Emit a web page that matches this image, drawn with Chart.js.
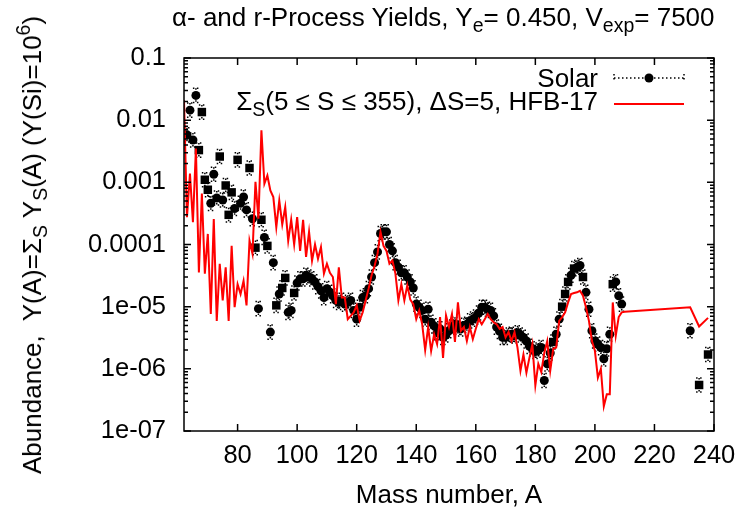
<!DOCTYPE html>
<html>
<head>
<meta charset="utf-8">
<script src="https://cdn.jsdelivr.net/npm/chart.js@4.4.0/dist/chart.umd.min.js"></script>
<style>
  body { margin: 0; background: #fff; }
  #wrap { position: relative; width: 740px; height: 512px; font-family: "Liberation Sans", Arial, sans-serif; color: #000; }
  #wrap canvas { position: absolute; left: 0; top: 0; }
  .lbl { position: absolute; white-space: nowrap; font-size: 26px; line-height: 1; }
  .lbl sub { font-size: 0.75em; vertical-align: -0.3em; line-height: 0; }
  .lbl sup { font-size: 0.75em; vertical-align: 0.55em; line-height: 0; }
</style>
</head>
<body>
<div id="wrap">
  <canvas id="chart" width="740" height="512"></canvas>
  <div class="lbl" id="title" style="left:172px; top:4px;">α- and r-Process Yields, Y<sub>e</sub>= 0.450, V<sub>exp</sub>= 7500</div>
  <div class="lbl" id="ylabel" style="left:32px; top:245px; transform:translate(-50%,-50%) rotate(-90deg);">Abundance,&nbsp; Y(A)=Σ<sub>S</sub> Y<sub>S</sub>(A) (Y(Si)=10<sup>6</sup>)</div>
  <div class="lbl" id="xlabel" style="left:449px; top:481px; transform:translateX(-50%);">Mass number, A</div>
  <div class="lbl" style="right:142px; top:65px; text-align:right;">Solar</div>
  <div class="lbl" style="right:142px; top:88px; text-align:right;">Σ<sub>S</sub>(5 ≤ S ≤ 355), ΔS=5, HFB-17</div>
</div>
<script>
// Model yields, summed over entropies
const redMass = [62, 63, 64, 65, 66, 67, 68, 69, 70, 71, 72, 73, 74, 75, 76, 77, 78, 79, 80, 81,
  82, 83, 84, 85, 86, 87, 88, 89, 90, 91, 92, 93, 94, 95, 96, 97, 98, 99, 100, 101,
  102, 103, 104, 105, 106, 107, 108, 109, 110, 111, 112, 113, 114, 115, 116, 117, 118, 119, 120, 121,
  122, 123, 124, 125, 126, 127, 128, 129, 130, 131, 132, 133, 134, 135, 136, 137, 138, 139, 140, 141,
  142, 143, 144, 145, 146, 147, 148, 149, 150, 151, 152, 153, 154, 155, 156, 157, 158, 159, 160, 161,
  162, 163, 164, 165, 166, 167, 168, 169, 170, 171, 172, 173, 174, 175, 176, 177, 178, 179, 180, 181,
  182, 183, 184, 185, 186, 187, 188, 189, 190, 191, 192, 193, 194, 195, 196, 197, 198, 199, 200, 201,
  202, 203, 204, 205, 206, 207, 208, 209, 210, 232, 235, 238];
const redYield = [2.1e-2, 2.75e-4, 1.38e-3, 2.29e-4, 3.5e-3, 3.55e-5, 6.6e-4, 3.4e-5, 1.48e-4, 7.6e-6,
  2.57e-4, 5.9e-6, 4.9e-5, 1.26e-5, 4.3e-5, 5.9e-6, 9.5e-5, 9.8e-6, 2.3e-5, 1.6e-5,
  2.6e-5, 1.05e-5, 1.15e-4, 7.1e-5, 1.02e-3, 2.6e-4, 6.9e-3, 9.5e-4, 1.29e-3, 7.4e-4,
  5.8e-4, 1.9e-4, 5.1e-4, 2.1e-4, 4.0e-4, 1.15e-4, 2.5e-4, 1.0e-4, 2.75e-4, 7.9e-5,
  2.5e-4, 6.3e-5, 1.6e-4, 5.5e-5, 1.0e-4, 5.9e-5, 9.1e-5, 3.4e-5, 4.9e-5, 3.5e-5,
  3.0e-5, 1.1e-5, 4.3e-5, 1.4e-5, 1.4e-5, 6.3e-6, 7.1e-6, 8.1e-6, 1.05e-5, 6.0e-6,
  8.1e-6, 1.26e-5, 1.95e-5, 3.2e-5, 4.5e-5, 7.1e-5, 1.6e-4, 9.5e-5, 7.9e-5, 4.9e-5,
  5.5e-5, 3.4e-5, 1.26e-5, 2.3e-5, 1.26e-5, 2.2e-5, 1.3e-5, 1.1e-5, 6.3e-6, 8.7e-6,
  5.2e-6, 2.0e-6, 4.7e-6, 1.95e-6, 3.6e-6, 2.5e-6, 6.8e-6, 1.5e-6, 7.2e-6, 4.7e-6,
  7.6e-6, 2.7e-6, 1.17e-5, 4.1e-6, 4.7e-6, 2.8e-6, 4.7e-6, 3.0e-6, 4.4e-6, 6.3e-6,
  5.2e-6, 6.3e-6, 7.6e-6, 6.3e-6, 5.6e-6, 5.2e-6, 4.4e-6, 4.7e-6, 3.2e-6, 3.9e-6,
  2.8e-6, 3.9e-6, 2.2e-6, 9.3e-7, 1.7e-6, 8.7e-7, 1.5e-6, 2.5e-6, 5.4e-7, 1.2e-6,
  8.9e-7, 1.8e-6, 2.8e-6, 9.3e-7, 2.1e-6, 2.2e-6, 5.9e-6, 6.8e-6, 8.1e-6, 1.17e-5,
  1.6e-5, 1.66e-5, 1.7e-5, 1.8e-5, 1.5e-5, 9.8e-6, 5.9e-6, 2.8e-6, 1.95e-6, 7.2e-7,
  1.0e-6, 2.5e-7, 3.9e-7, 3.9e-7, 1.17e-5, 3.4e-6, 6.8e-6, 8.1e-6, 8.3e-6, 9.8e-6,
  4.8e-6, 6.6e-6];

// Solar abundances
const solarMass = [63, 64, 65, 66, 67, 68, 69, 70, 71, 72, 73, 74, 75, 76, 77, 78, 79, 80, 81, 82,
  83, 84, 85, 86, 87, 88, 89, 90, 91, 92, 93, 94, 95, 96, 97, 98, 99, 100, 101, 102,
  103, 104, 105, 106, 107, 108, 109, 110, 111, 112, 113, 114, 115, 116, 117, 118, 119, 120, 121, 122,
  123, 124, 125, 126, 127, 128, 129, 130, 131, 132, 133, 134, 135, 136, 137, 138, 139, 140, 141, 142,
  143, 144, 145, 146, 147, 148, 149, 150, 151, 152, 153, 154, 155, 156, 157, 158, 159, 160, 161, 162,
  163, 164, 165, 166, 167, 168, 169, 170, 171, 172, 173, 174, 175, 176, 177, 178, 179, 180, 181, 182,
  183, 184, 185, 186, 187, 188, 189, 190, 191, 192, 193, 194, 195, 196, 197, 198, 199, 200, 201, 202,
  203, 204, 205, 206, 207, 208, 209, 232, 235, 238];
const solarAbund = [5.8e-3, 1.45e-2, 4.8e-3, 2.5e-2, 3.3e-3, 1.35e-2, 1.1e-3, 7.6e-4, 4.6e-4, 1.35e-3,
  5.6e-4, 2.6e-3, 5.2e-4, 8.9e-4, 3.0e-4, 6.9e-4, 3.8e-4, 2.3e-3, 4.6e-4, 5.8e-4,
  3.6e-4, 1.7e-3, 2.6e-4, 8.9e-5, 9.3e-6, 2.5e-4, 1.3e-4, 9.5e-5, 3.9e-6, 5.1e-5,
  1.05e-5, 1.6e-5, 2.0e-5, 2.9e-5, 8.1e-6, 8.7e-6, 1.66e-5, 2.4e-5, 2.8e-5, 2.8e-5,
  3.2e-5, 3.0e-5, 2.8e-5, 2.5e-5, 2.1e-5, 1.8e-5, 1.4e-5, 1.95e-5, 1.7e-5, 1.5e-5,
  1.26e-5, 1.17e-5, 1.26e-5, 1.1e-5, 1.17e-5, 1.26e-5, 8.7e-6, 6.3e-6, 9.8e-6, 1.4e-5,
  1.5e-5, 1.95e-5, 3.0e-5, 5.1e-5, 7.6e-5, 1.5e-4, 1.6e-4, 1.6e-4, 1.0e-4, 7.9e-5,
  5.1e-5, 4.3e-5, 3.5e-5, 3.5e-5, 3.0e-5, 2.5e-5, 2.0e-5, 1.1e-5, 9.8e-6, 8.7e-6,
  6.3e-6, 9.1e-6, 5.6e-6, 4.9e-6, 3.8e-6, 4.4e-6, 3.2e-6, 3.5e-6, 4.1e-6, 4.7e-6,
  5.2e-6, 4.7e-6, 4.4e-6, 5.0e-6, 5.2e-6, 5.9e-6, 6.3e-6, 6.8e-6, 7.9e-6, 9.8e-6,
  9.8e-6, 9.1e-6, 8.7e-6, 7.1e-6, 4.7e-6, 4.0e-6, 3.2e-6, 3.2e-6, 3.5e-6, 3.6e-6,
  3.4e-6, 3.8e-6, 3.5e-6, 3.2e-6, 2.8e-6, 2.3e-6, 2.1e-6, 1.9e-6, 2.0e-6, 2.2e-6,
  6.5e-7, 1.2e-6, 1.8e-6, 2.7e-6, 3.6e-6, 6.3e-6, 1.0e-5, 1.6e-5, 2.5e-5, 3.2e-5,
  4.1e-5, 4.3e-5, 4.6e-5, 3.0e-5, 1.7e-5, 9.1e-6, 4.1e-6, 2.8e-6, 2.5e-6, 2.2e-6,
  1.45e-6, 2.1e-6, 3.6e-6, 2.3e-5, 2.5e-5, 1.5e-5, 1.1e-5, 4.1e-6, 5.5e-7, 1.7e-6];
// masses drawn with square markers
const squareMass = [67, 68, 69, 70, 74, 76, 77, 78, 80, 84, 86, 88, 90, 93, 95, 96, 99,
  186, 189, 190, 191, 193, 196, 206, 235, 238];
const solarErr = 1.3;

const xTickValues = [80, 100, 120, 140, 160, 180, 200, 220, 240];
const yTickValues = [1e-7, 1e-6, 1e-5, 1e-4, 1e-3, 1e-2, 1e-1];
const yTickLabels = ["1e-07", "1e-06", "1e-05", "0.0001", "0.001", "0.01", "0.1"];

Chart.defaults.font.family = "'Liberation Sans', Arial, sans-serif";
Chart.defaults.font.size = 25.5;
Chart.defaults.color = "#000";

// dotted error bars under the solar markers
const errorBars = {
  id: "errorBars",
  beforeDatasetsDraw(chart) {
    const { ctx, chartArea: a, scales: { x, y } } = chart;
    ctx.save();
    ctx.beginPath();
    ctx.rect(a.left, a.top, a.right - a.left, a.bottom - a.top);
    ctx.clip();
    ctx.strokeStyle = "#000";
    ctx.lineWidth = 1.5;
    ctx.setLineDash([1.5, 2.5]);
    solarMass.forEach((m, i) => {
      const px = x.getPixelForValue(m);
      const top = y.getPixelForValue(solarAbund[i] * solarErr);
      const bot = y.getPixelForValue(solarAbund[i] / solarErr);
      ctx.beginPath();
      ctx.moveTo(px, top); ctx.lineTo(px, bot);
      ctx.moveTo(px - 3, top); ctx.lineTo(px + 3, top);
      ctx.moveTo(px - 3, bot); ctx.lineTo(px + 3, bot);
      ctx.stroke();
    });
    ctx.restore();
  }
};

// gnuplot style frame with inward ticks, plus legend samples
const frame = {
  id: "frame",
  afterDraw(chart) {
    const { ctx, chartArea: a, scales: { x, y } } = chart;
    ctx.save();
    ctx.strokeStyle = "#000";
    ctx.lineWidth = 1.5;
    ctx.strokeRect(a.left, a.top, a.right - a.left, a.bottom - a.top);
    ctx.beginPath();
    xTickValues.forEach(v => {
      const px = x.getPixelForValue(v);
      ctx.moveTo(px, a.bottom); ctx.lineTo(px, a.bottom - 7);
      ctx.moveTo(px, a.top); ctx.lineTo(px, a.top + 7);
    });
    for (let d = -7; d <= -1; d++) {
      for (let k = 1; k <= 9; k++) {
        const v = k * Math.pow(10, d);
        if (v > 0.1 + 1e-12) break;
        const py = y.getPixelForValue(v);
        const len = k === 1 ? 7 : 4;
        ctx.moveTo(a.left, py); ctx.lineTo(a.left + len, py);
        ctx.moveTo(a.right, py); ctx.lineTo(a.right - len, py);
      }
    }
    ctx.stroke();

    // legend samples
    const x0 = a.right - 100, x1 = a.right - 30;
    ctx.setLineDash([1.5, 2.5]);
    ctx.beginPath();
    ctx.moveTo(x0, 78); ctx.lineTo(x1, 78);
    ctx.moveTo(x0, 74); ctx.lineTo(x0, 82);
    ctx.moveTo(x1, 74); ctx.lineTo(x1, 82);
    ctx.stroke();
    ctx.setLineDash([]);
    ctx.fillStyle = "#000";
    ctx.beginPath();
    ctx.arc((x0 + x1) / 2, 78, 4.5, 0, Math.PI * 2);
    ctx.fill();
    ctx.strokeStyle = "#ff0000";
    ctx.lineWidth = 2;
    ctx.beginPath();
    ctx.moveTo(x0, 104); ctx.lineTo(x1, 104);
    ctx.stroke();
    ctx.restore();
  }
};

const noPad = scale => {
  scale.paddingLeft = 0; scale.paddingRight = 0;
  scale.paddingTop = 0; scale.paddingBottom = 0;
};

new Chart(document.getElementById("chart"), {
  type: "line",
  plugins: [errorBars, frame],
  data: {
    datasets: [
      {
        label: "HFB-17",
        data: redMass.map((m, i) => ({ x: m, y: redYield[i] })),
        borderColor: "#ff0000",
        borderWidth: 2,
        pointRadius: 0,
        tension: 0,
        order: 0
      },
      {
        label: "Solar",
        data: solarMass.map((m, i) => ({ x: m, y: solarAbund[i] })),
        showLine: false,
        backgroundColor: "#000",
        borderColor: "#000",
        borderWidth: 0,
        pointStyle: ctx => squareMass.includes(solarMass[ctx.dataIndex]) ? "rect" : "circle",
        pointRadius: ctx => squareMass.includes(solarMass[ctx.dataIndex]) ? 6 : 4.5,
        order: 1
      }
    ]
  },
  options: {
    responsive: false,
    animation: false,
    layout: { padding: { left: 0, right: 26, top: 58, bottom: 0 } },
    plugins: {
      legend: { display: false },
      tooltip: { enabled: false },
      title: { display: false }
    },
    scales: {
      x: {
        type: "linear",
        min: 62,
        max: 240,
        grid: { display: false, drawTicks: false },
        border: { display: false },
        afterBuildTicks: scale => { scale.ticks = xTickValues.map(v => ({ value: v })); },
        afterFit: scale => { scale.height = 81; noPad(scale); },
        ticks: { padding: 10, autoSkip: false, maxRotation: 0, callback: v => String(v) }
      },
      y: {
        type: "logarithmic",
        min: 1e-7,
        max: 0.1,
        grid: { display: false, drawTicks: false },
        border: { display: false },
        afterBuildTicks: scale => { scale.ticks = yTickValues.map(v => ({ value: v })); },
        afterFit: scale => { scale.width = 184; noPad(scale); },
        ticks: {
          padding: 18,
          autoSkip: false,
          callback: v => {
            const i = yTickValues.findIndex(t => Math.abs(t - v) / t < 1e-6);
            return i >= 0 ? yTickLabels[i] : "";
          }
        }
      }
    }
  }
});
</script>
</body>
</html>
